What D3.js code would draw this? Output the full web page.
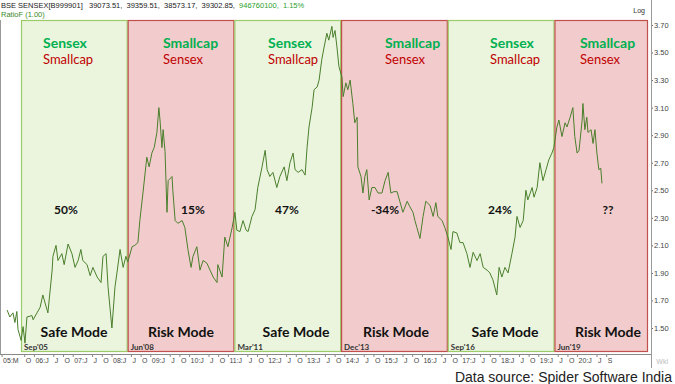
<!DOCTYPE html>
<html>
<head>
<meta charset="utf-8">
<script src="https://cdn.jsdelivr.net/npm/d3@7"></script>
<style>
  html, body { margin: 0; padding: 0; background: #fff; }
  svg { display: block; }
  text { font-family: "Liberation Sans", Arial, sans-serif; }
  .lbl text { font-family: Lato, "Noto Sans", sans-serif; }
</style>
</head>
<body>
<div id="chart"></div>
<script>
// ratio series (decimal year, value)
const years = [
  2005.31, 2005.38, 2005.46, 2005.51, 2005.56, 2005.59, 2005.67, 2005.72, 2005.77, 2005.82,
  2005.95, 2005.98, 2006.08, 2006.16, 2006.23, 2006.34, 2006.36, 2006.47, 2006.49, 2006.57,
  2006.62, 2006.72, 2006.78, 2006.88, 2006.98, 2007.06, 2007.14, 2007.21, 2007.26, 2007.37,
  2007.45, 2007.52, 2007.63, 2007.73, 2007.78, 2007.86, 2007.91, 2008.01, 2008.09, 2008.14,
  2008.22, 2008.30, 2008.37, 2008.42, 2008.53, 2008.60, 2008.68, 2008.73, 2008.81, 2008.91,
  2008.97, 2009.04, 2009.10, 2009.17, 2009.22, 2009.25, 2009.30, 2009.33, 2009.38, 2009.43,
  2009.46, 2009.56, 2009.58, 2009.64, 2009.71, 2009.82, 2009.89, 2009.97, 2010.05, 2010.10,
  2010.20, 2010.28, 2010.36, 2010.46, 2010.54, 2010.62, 2010.72, 2010.74, 2010.85, 2010.92,
  2011.00, 2011.11, 2011.18, 2011.23, 2011.31, 2011.39, 2011.47, 2011.52, 2011.62, 2011.70,
  2011.77, 2011.88, 2011.96, 2012.01, 2012.08, 2012.16, 2012.26, 2012.34, 2012.45, 2012.52,
  2012.60, 2012.68, 2012.73, 2012.81, 2012.91, 2012.99, 2013.04, 2013.09, 2013.17, 2013.22,
  2013.30, 2013.35, 2013.42, 2013.48, 2013.55, 2013.60, 2013.68, 2013.71, 2013.76, 2013.81,
  2013.86, 2013.94, 2013.97, 2014.04, 2014.09, 2014.15, 2014.22, 2014.27, 2014.33, 2014.35,
  2014.43, 2014.48, 2014.53, 2014.58, 2014.64, 2014.71, 2014.79, 2014.87, 2014.97, 2015.05,
  2015.13, 2015.20, 2015.28, 2015.36, 2015.43, 2015.51, 2015.62, 2015.69, 2015.77, 2015.82,
  2015.87, 2015.95, 2016.03, 2016.10, 2016.21, 2016.29, 2016.36, 2016.41, 2016.52, 2016.59,
  2016.67, 2016.75, 2016.80, 2016.90, 2016.98, 2017.06, 2017.16, 2017.24, 2017.32, 2017.42,
  2017.50, 2017.58, 2017.68, 2017.75, 2017.83, 2017.93, 2017.99, 2018.06, 2018.14, 2018.22,
  2018.32, 2018.40, 2018.45, 2018.53, 2018.61, 2018.68, 2018.73, 2018.84, 2018.89, 2018.97,
  2019.04, 2019.12, 2019.20, 2019.27, 2019.35, 2019.40, 2019.48, 2019.53, 2019.61, 2019.69,
  2019.74, 2019.82, 2019.89, 2019.94, 2020.00, 2020.05, 2020.13, 2020.15, 2020.20, 2020.25,
  2020.28, 2020.36, 2020.41, 2020.46, 2020.51, 2020.56, 2020.61, 2020.64
];
const ratio = [
  1.63, 1.58, 1.61, 1.54, 1.62, 1.49, 1.41, 1.51, 1.39, 1.58,
  1.59, 1.56, 1.61, 1.65, 1.74, 1.63, 1.61, 1.92, 2.02, 2.10,
  1.99, 2.04, 1.96, 2.11, 2.04, 1.94, 1.99, 2.07, 1.99, 1.96,
  1.88, 1.94, 1.87, 1.83, 2.02, 2.04, 1.80, 1.50, 1.80, 1.90,
  2.07, 1.94, 2.02, 1.98, 2.09, 2.10, 2.12, 2.28, 2.48, 2.74,
  2.67, 2.77, 2.81, 2.92, 3.10, 3.01, 2.81, 2.94, 2.78, 2.34,
  2.57, 2.60, 2.50, 2.28, 2.26, 2.28, 2.23, 2.07, 1.94, 2.02,
  2.09, 1.92, 1.99, 1.97, 1.92, 1.87, 1.83, 1.96, 1.87, 2.16,
  2.09, 2.23, 2.34, 2.21, 2.20, 2.28, 2.21, 2.20, 2.31, 2.36,
  2.52, 2.67, 2.79, 2.65, 2.60, 2.63, 2.52, 2.60, 2.67, 2.57,
  2.70, 2.77, 2.65, 2.63, 2.65, 2.61, 2.81, 2.96, 3.10, 3.23,
  3.25, 3.30, 3.45, 3.54, 3.64, 3.59, 3.69, 3.61, 3.66, 3.54,
  3.40, 3.32, 3.18, 3.28, 3.23, 3.30, 3.13, 2.99, 3.03, 2.67,
  2.60, 2.48, 2.60, 2.65, 2.43, 2.52, 2.52, 2.48, 2.48, 2.57,
  2.63, 2.48, 2.49, 2.49, 2.42, 2.34, 2.42, 2.38, 2.34, 2.28,
  2.23, 2.15, 2.31, 2.42, 2.39, 2.31, 2.41, 2.31, 2.28, 2.23,
  2.16, 2.07, 2.20, 2.19, 2.12, 2.12, 2.04, 1.94, 2.05, 1.99,
  2.04, 1.94, 1.92, 1.90, 1.85, 1.74, 1.94, 1.87, 1.94, 1.90,
  2.04, 2.16, 2.31, 2.23, 2.28, 2.50, 2.43, 2.52, 2.45, 2.52,
  2.70, 2.57, 2.65, 2.72, 2.77, 2.81, 2.96, 3.01, 2.89, 2.99,
  2.96, 3.03, 3.10, 2.89, 2.77, 2.79, 3.01, 3.13, 2.94, 3.03,
  2.92, 2.94, 2.84, 2.94, 2.77, 2.65, 2.66, 2.55
];

// regimes
const regimeStart = [2005.667, 2008.417, 2011.167, 2013.917, 2016.667, 2019.417];
const regimeLabel = ["Sep'05", "Jun'08", "Mar'11", "Dec'13", "Sep'16", "Jun'19"];
const regimeMode = ["Safe Mode", "Risk Mode", "Safe Mode", "Risk Mode", "Safe Mode", "Risk Mode"];
const regimeReturn = ["50%", "15%", "47%", "-34%", "24%", "??"];

const yTicks = [1.5, 1.7, 1.9, 2.1, 2.3, 2.5, 2.7, 2.9, 3.1, 3.3, 3.5, 3.7];
const xFirstYear = 2005;
const xLastYear = 2020;

const width = 675;
const height = 384;
const plotRight = 648;
const boxTop = 20;
const boxBottom = 352;
const axisY = 354;

// hand placed annotation x positions (header left, return centre, mode centre)
const headX = [43, 163, 268, 385, 490, 580];
const pctX = [66, 193, 287, 385, 500, 608];
const modeX = [74, 181, 296, 396, 505, 608];

const GREEN_TXT = '#00b050';
const RED_TXT = '#c00000';

const svg = d3.select('#chart')
  .append('svg')
  .attr('width', width)
  .attr('height', height);

const x = d3.scaleLinear()
  .domain([2005.126, 2021.827])
  .range([0, plotRight]);

const y = d3.scaleLinear()
  .domain([1.5, 3.7])
  .range([328, 25]);

const regimes = regimeStart.map((s, i) => ({
  start: s,
  end: i < regimeStart.length - 1 ? regimeStart[i + 1] : x.domain()[1],
  label: regimeLabel[i],
  mode: regimeMode[i],
  ret: regimeReturn[i],
  safe: regimeMode[i] === 'Safe Mode',
  i
}));

// frame
svg.append('line')
  .attr('x1', 0.5).attr('x2', 0.5)
  .attr('y1', boxTop).attr('y2', axisY)
  .attr('stroke', '#999');

// regime boxes
svg.append('g')
  .selectAll('rect')
  .data(regimes)
  .enter()
    .append('rect')
    .attr('x', (d) => x(d.start) + 0.5)
    .attr('y', boxTop + 0.5)
    .attr('width', (d) => x(d.end) - x(d.start) - 1)
    .attr('height', boxBottom - boxTop - 1)
    .attr('fill', (d) => d.safe ? '#ebf5de' : '#f2cccc')
    .attr('stroke', (d) => d.safe ? '#9ccc6a' : '#c0504d')
    .attr('stroke-width', 1.2);

// ratio line
const points = years.map((t, i) => [t, ratio[i]]);
const line = d3.line()
  .x((d) => x(d[0]))
  .y((d) => y(d[1]));

svg.append('path')
  .attr('d', line(points))
  .attr('fill', 'none')
  .attr('stroke', '#4a7f2c')
  .attr('stroke-width', 1)
  .attr('stroke-linejoin', 'round');

// annotations
const ann = svg.append('g').attr('class', 'lbl');

ann.selectAll('.top')
  .data(regimes)
  .enter()
    .append('text')
    .attr('x', (d) => headX[d.i])
    .attr('y', 48)
    .attr('font-size', 14)
    .attr('font-weight', 700)
    .attr('fill', GREEN_TXT)
    .text((d) => d.safe ? 'Sensex' : 'Smallcap');

ann.selectAll('.bot')
  .data(regimes)
  .enter()
    .append('text')
    .attr('x', (d) => headX[d.i])
    .attr('y', 64)
    .attr('font-size', 13)
    .attr('fill', RED_TXT)
    .text((d) => d.safe ? 'Smallcap' : 'Sensex');

ann.selectAll('.pct')
  .data(regimes)
  .enter()
    .append('text')
    .attr('x', (d) => pctX[d.i])
    .attr('y', 214)
    .attr('text-anchor', 'middle')
    .attr('font-size', 12)
    .attr('font-weight', 700)
    .attr('fill', '#111')
    .text((d) => d.ret);

ann.selectAll('.mode')
  .data(regimes)
  .enter()
    .append('text')
    .attr('x', (d) => modeX[d.i])
    .attr('y', 337)
    .attr('text-anchor', 'middle')
    .attr('font-size', 14)
    .attr('font-weight', 700)
    .attr('fill', '#111')
    .text((d) => d.mode);

ann.selectAll('.date')
  .data(regimes)
  .enter()
    .append('text')
    .attr('x', (d) => x(d.start) + 3)
    .attr('y', 350)
    .attr('font-size', 8)
    .attr('font-weight', 700)
    .attr('fill', '#333')
    .text((d) => d.label);

// right axis
const yAxis = d3.axisRight(y)
  .tickValues(yTicks)
  .tickSize(2)
  .tickPadding(1)
  .tickFormat(d3.format('.2f'));

const gy = svg.append('g')
  .attr('transform', `translate(${plotRight + 3},0)`)
  .call(yAxis);
gy.select('.domain').remove();
gy.selectAll('text')
  .attr('font-size', 7.5)
  .attr('fill', '#444');
gy.selectAll('line').attr('stroke', '#666');

svg.append('line')
  .attr('x1', plotRight + 3.5).attr('x2', plotRight + 3.5)
  .attr('y1', 0).attr('y2', 368)
  .attr('stroke', '#999');

// bottom axis
const xTickVals = [];
const xTickText = new Map();
xTickVals.push(2005.167);
xTickText.set(2005.167, '05:M');
xTickVals.push(2005.75);
xTickText.set(2005.75, 'O');
for (let yr = xFirstYear + 1; yr <= xLastYear; yr++) {
  const yy = String(yr).slice(2);
  xTickVals.push(yr, yr + 0.5, yr + 0.75);
  xTickText.set(yr, yy + ':J');
  xTickText.set(yr + 0.5, 'J');
  xTickText.set(yr + 0.75, yr === xLastYear ? 'S' : 'O');
}
const xAxis = d3.axisBottom(x)
  .tickValues(xTickVals)
  .tickSize(3)
  .tickPadding(1)
  .tickFormat((d) => xTickText.get(d));

const gx = svg.append('g')
  .attr('transform', `translate(0,${axisY})`)
  .call(xAxis);
gx.select('.domain')
  .attr('d', `M0,0.5H${plotRight + 3}`)
  .attr('stroke', '#888');
gx.selectAll('line').attr('stroke', '#888');
gx.selectAll('text')
  .attr('font-size', 7)
  .attr('fill', '#444')
  .attr('text-anchor', 'start')
  .attr('dx', 1);

// header
const head = svg.append('text')
  .attr('x', 1)
  .attr('y', 8)
  .attr('font-size', 7.5)
  .attr('fill', '#222')
  .attr('xml:space', 'preserve');
head.append('tspan').text('BSE SENSEX[B999901]   39073.51,  39359.51,  38573.17,  39302.85,  ');
head.append('tspan').attr('fill', '#2ca02c').text('946760100,  1.15%');

svg.append('text')
  .attr('x', 1)
  .attr('y', 17)
  .attr('font-size', 7.5)
  .attr('fill', '#3a8a2a')
  .text('RatioF  (1.00)');

svg.append('text')
  .attr('x', 645)
  .attr('y', 13)
  .attr('text-anchor', 'end')
  .attr('font-size', 7)
  .attr('fill', '#333')
  .text('Log');

svg.append('text')
  .attr('x', 668)
  .attr('y', 364)
  .attr('text-anchor', 'end')
  .attr('font-size', 7)
  .attr('fill', '#bbb')
  .text('Wkl');

svg.append('text')
  .attr('x', 672)
  .attr('y', 382)
  .attr('text-anchor', 'end')
  .attr('font-size', 14)
  .attr('fill', '#222')
  .text('Data source: Spider Software India');
</script>
</body>
</html>
